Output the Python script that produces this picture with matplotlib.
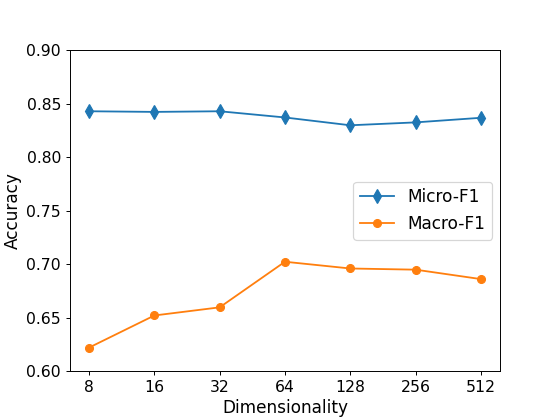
import numpy as np
import matplotlib
matplotlib.use("Agg")
import matplotlib.pyplot as plt

dims = ["8", "16", "32", "64", "128", "256", "512"]
micro_f1 = [0.8428, 0.8422, 0.8428, 0.8370, 0.8297, 0.8324, 0.8367]
macro_f1 = [0.6220, 0.6520, 0.6596, 0.7022, 0.6959, 0.6948, 0.6860]

fig, ax = plt.subplots(figsize=(6.4, 4.8), dpi=86.875)
x = np.arange(len(dims))
ax.plot(x, micro_f1, marker="d", markersize=8, label="Micro-F1")
ax.plot(x, macro_f1, marker="o", markersize=6.5, label="Macro-F1")

ax.set_xticks(x)
ax.set_xticklabels(dims)
ax.set_ylim(0.60, 0.90)
ax.tick_params(labelsize=13)
ax.set_xlabel("Dimensionality", fontsize=14)
ax.set_ylabel("Accuracy", fontsize=14)
ax.legend(loc="center right", fontsize=14)

fig.savefig("out.png")
